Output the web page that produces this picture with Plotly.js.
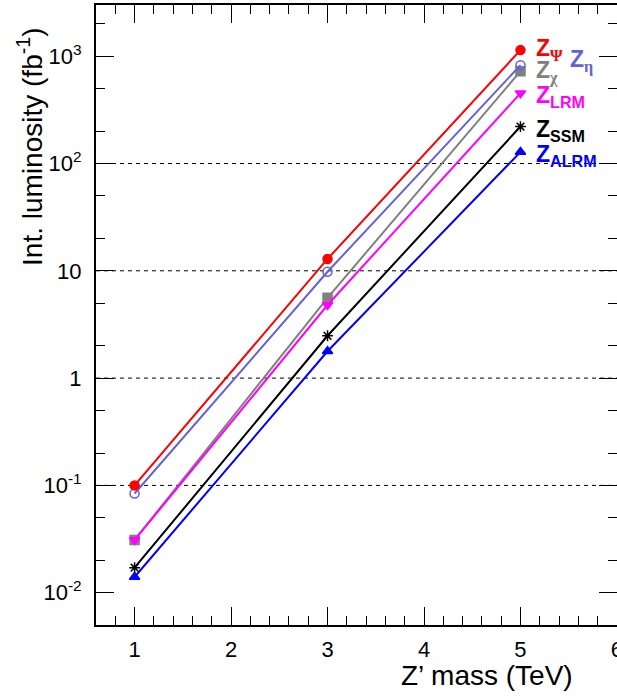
<!DOCTYPE html>
<html><head><meta charset="utf-8">
<script src="https://cdn.plot.ly/plotly-3.0.1.min.js"></script>
<style>html,body{margin:0;padding:0;background:#fff}</style>
</head><body>
<div id="chart" style="width:617px;height:700px"></div>
<script>
// Data
var massTeV = [1, 3, 5];
var lumiPsi  = [0.100, 12.9, 1140];
var lumiEta  = [0.084, 9.8, 825];
var lumiChi  = [0.031, 5.6, 725];
var lumiLRM  = [0.031, 4.8, 452];
var lumiSSM  = [0.0171, 2.48, 221];
var lumiALRM = [0.0140, 1.78, 128];
var xTickVals = [1, 2, 3, 4, 5, 6];
var yTickVals = [0.01, 0.1, 1, 10, 100, 1000];
var yTickText = ["10<sup>-2</sup>", "10<sup>-1</sup>", "1", "10", "10<sup>2</sup>", "10<sup>3</sup>"];
var gridLevels = [0.1, 1, 10, 100];

var series = [
  {y: lumiChi,  color: '#808080', symbol: 'square', size: 9, label: 'Z<sub><span style="font-family:Liberation Serif">χ</span></sub>', dx: 14, dy: -1},
  {y: lumiLRM,  color: '#ff00ff', symbol: 'triangle-down', size: 9, label: 'Z<sub>LRM</sub>', dx: 14, dy: -3},
  {y: lumiALRM, color: '#0000ff', symbol: 'triangle-up', size: 9, label: 'Z<sub>ALRM</sub>', dx: 14, dy: -4},
  {y: lumiSSM,  color: '#000000', symbol: 'asterisk-open', size: 9, label: 'Z<sub>SSM</sub>', dx: 14, dy: -4},
  {y: lumiEta,  color: '#6262dc', symbol: 'circle-open', size: 9, label: 'Z<sub><span style="font-family:Liberation Serif">η</span></sub>', dx: 48, dy: 4},
  {y: lumiPsi,  color: '#ff0000', symbol: 'circle', size: 9, label: 'Z<sub><span style="font-family:Liberation Serif">Ψ</span></sub>', dx: 14, dy: 1}
];

var traces = series.map(function(s){
  return {
    x: massTeV, y: s.y, type: 'scatter', mode: 'lines+markers',
    line: {color: s.color, width: 2},
    marker: {color: s.color, symbol: s.symbol, size: s.size, line: {color: s.color, width: 1.5}},
    showlegend: false, hoverinfo: 'skip'
  };
});

var annotations = series.map(function(s){
  return {
    x: massTeV[massTeV.length-1], y: Math.log10(s.y[s.y.length-1]),
    xref: 'x', yref: 'y', xanchor: 'left', yanchor: 'middle',
    xshift: s.dx, yshift: s.dy, showarrow: false,
    text: '<b>' + s.label + '</b>',
    font: {family: 'Liberation Sans, Arial', size: 23, color: s.color}
  };
});
annotations.push({
  xref: 'paper', yref: 'paper', x: -0.127, y: 0.966, xanchor: 'center', yanchor: 'top',
  textangle: -90, showarrow: false, text: 'Int. luminosity (fb<sup>-1</sup>)',
  font: {family: 'Liberation Sans, Arial', size: 28, color: '#000'}
});
annotations.push({
  xref: 'paper', yref: 'paper', x: 0.919, y: -0.082, xanchor: 'right', yanchor: 'middle',
  showarrow: false, text: 'Z’ mass (TeV)',
  font: {family: 'Liberation Sans, Arial', size: 28, color: '#000'}
});

var shapes = gridLevels.map(function(v){
  return {type: 'line', xref: 'paper', yref: 'y', x0: 0, x1: 1, y0: v, y1: v,
          line: {color: '#000', width: 1, dash: '4px,4px'}, layer: 'below'};
});

var layout = {
  width: 617, height: 700,
  margin: {l: 96, r: 0, t: 5, b: 75},
  paper_bgcolor: '#fff', plot_bgcolor: '#fff',
  font: {family: 'Liberation Sans, Arial', size: 22, color: '#000'},
  xaxis: {
    range: [0.6, 6.0005], tickvals: xTickVals, ticks: 'inside', ticklen: 18, tickwidth: 1,
    tickcolor: '#000', showline: true, linewidth: 2, linecolor: '#000', mirror: 'ticks',
    showgrid: false, zeroline: false, ticklabelstandoff: 4, ticklabeloverflow: 'allow',
    minor: {dtick: 0.2, ticks: 'inside', ticklen: 9, tickcolor: '#000', tickwidth: 1, showgrid: false},
    tickfont: {size: 22}
  },
  yaxis: {
    type: 'log', range: [Math.log10(0.005), Math.log10(3000)],
    tickvals: yTickVals, ticktext: yTickText, ticks: 'inside', ticklen: 18, tickwidth: 1,
    tickcolor: '#000', showline: true, linewidth: 2, linecolor: '#000', mirror: 'ticks',
    showgrid: false, zeroline: false, ticklabelstandoff: 8,
    minor: {ticks: 'inside', ticklen: 9, tickcolor: '#000', tickwidth: 1, showgrid: false},
    tickfont: {size: 22}
  },
  shapes: shapes,
  annotations: annotations
};

Plotly.newPlot('chart', traces, layout, {staticPlot: true});
</script>
</body></html>
